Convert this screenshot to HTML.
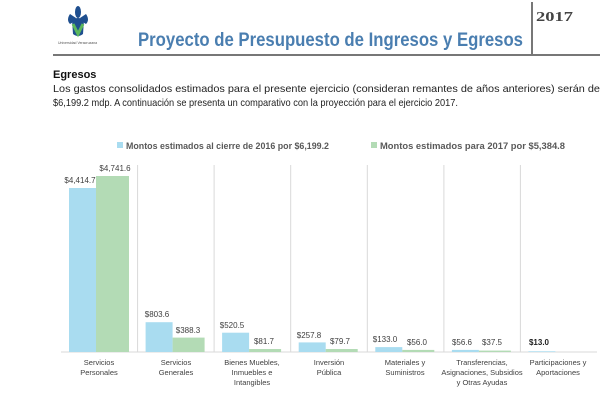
<!DOCTYPE html>
<html><head><meta charset="utf-8"><style>
html,body{margin:0;padding:0;background:#fff;width:608px;height:400px;overflow:hidden}
svg{display:block}
</style></head><body>
<svg width="608" height="400" viewBox="0 0 608 400" xmlns="http://www.w3.org/2000/svg" font-family="Liberation Sans, sans-serif">
<g fill="#1f4f8f">
<ellipse cx="78" cy="12" rx="3" ry="6"/>
<path d="M70 14 Q66 20 70 24 Q74 22 76 18 Z"/>
<path d="M86 14 Q90 20 86 24 Q82 22 80 18 Z"/>
<path d="M72 20 Q78 16 84 20 L83 34 Q78 38 73 34 Z"/>
</g>
<path d="M73 24 L78 34 L83 24" stroke="#5cb85c" stroke-width="3" fill="none"/>
<text x="58" y="44" font-size="3.5" fill="#555">Universidad Veracruzana</text>
<text x="138" y="46" font-size="19" font-weight="bold" fill="#4a7eb0" textLength="385" lengthAdjust="spacingAndGlyphs">Proyecto de Presupuesto de Ingresos y Egresos</text>
<line x1="532" y1="2" x2="532" y2="55" stroke="#777" stroke-width="2"/>
<line x1="53" y1="55" x2="600" y2="55" stroke="#777" stroke-width="2"/>
<text x="536" y="21" font-size="14" font-weight="bold" fill="#444" font-family="Liberation Serif, serif" textLength="37" lengthAdjust="spacingAndGlyphs">2017</text>
<text x="53" y="78" font-size="11" font-weight="bold" fill="#111">Egresos</text>
<text x="53" y="92" font-size="10.5" fill="#222" textLength="547" lengthAdjust="spacingAndGlyphs">Los gastos consolidados estimados para el presente ejercicio (consideran remantes de años anteriores) serán de</text>
<text x="53" y="106" font-size="10.5" fill="#222" textLength="405" lengthAdjust="spacingAndGlyphs">$6,199.2 mdp. A continuación se presenta un comparativo con la proyección para el ejercicio 2017.</text>
<rect x="117" y="142" width="6" height="6" fill="#a9dcf0"/>
<text x="126" y="149" font-size="9" font-weight="bold" fill="#595959" textLength="203" lengthAdjust="spacingAndGlyphs">Montos estimados al cierre de 2016 por $6,199.2</text>
<rect x="371" y="142" width="6" height="6" fill="#b3dbb5"/>
<text x="380" y="149" font-size="9" font-weight="bold" fill="#595959" textLength="185" lengthAdjust="spacingAndGlyphs">Montos estimados para 2017 por $5,384.8</text>
<g stroke="#d9d9d9" stroke-width="1">
<line x1="137.6" y1="165" x2="137.6" y2="352"/>
<line x1="214.1" y1="165" x2="214.1" y2="352"/>
<line x1="290.7" y1="165" x2="290.7" y2="352"/>
<line x1="367.3" y1="165" x2="367.3" y2="352"/>
<line x1="443.9" y1="165" x2="443.9" y2="352"/>
<line x1="520.4" y1="165" x2="520.4" y2="352"/>
<line x1="61" y1="352" x2="597" y2="352"/>
</g>
<g fill="#a9dcf0">
<rect x="69" y="188" width="27" height="164"/>
<rect x="145.6" y="322.2" width="27" height="29.8"/>
<rect x="222.1" y="332.7" width="27" height="19.3"/>
<rect x="298.7" y="342.4" width="27" height="9.6"/>
<rect x="375.3" y="347.1" width="27" height="4.9"/>
<rect x="451.9" y="349.9" width="27" height="2.1"/>
<rect x="528.4" y="351.3" width="27" height="0.7"/>
</g>
<g fill="#b3dbb5">
<rect x="96" y="176" width="33" height="176"/>
<rect x="172.6" y="337.6" width="32" height="14.4"/>
<rect x="249.1" y="349" width="32" height="3"/>
<rect x="325.7" y="349" width="32" height="3"/>
<rect x="402.3" y="349.9" width="32" height="2.1"/>
<rect x="478.9" y="350.6" width="32" height="1.4"/>
</g>
<g font-size="8" fill="#404040" text-anchor="middle">
<text x="80" y="183">$4,414.7</text>
<text x="115" y="171">$4,741.6</text>
<text x="157" y="317">$803.6</text>
<text x="188" y="333">$388.3</text>
<text x="232" y="328">$520.5</text>
<text x="264" y="344">$81.7</text>
<text x="309" y="338">$257.8</text>
<text x="340" y="344">$79.7</text>
<text x="385" y="342">$133.0</text>
<text x="417" y="345">$56.0</text>
<text x="462" y="345">$56.6</text>
<text x="492" y="345">$37.5</text>
<text x="539" y="345" font-weight="bold" fill="#222">$13.0</text>
</g>
<g font-size="7.5" fill="#404040" text-anchor="middle">
<text x="99" y="365">Servicios</text><text x="99" y="375">Personales</text>
<text x="176" y="365">Servicios</text><text x="176" y="375">Generales</text>
<text x="252" y="365">Bienes Muebles,</text><text x="252" y="375">Inmuebles e</text><text x="252" y="385">Intangibles</text>
<text x="329" y="365">Inversión</text><text x="329" y="375">Pública</text>
<text x="405" y="365">Materiales y</text><text x="405" y="375">Suministros</text>
<text x="482" y="365">Transferencias,</text><text x="482" y="375">Asignaciones, Subsidios</text><text x="482" y="385">y Otras Ayudas</text>
<text x="558" y="365">Participaciones y</text><text x="558" y="375">Aportaciones</text>
</g>
</svg>
</body></html>
